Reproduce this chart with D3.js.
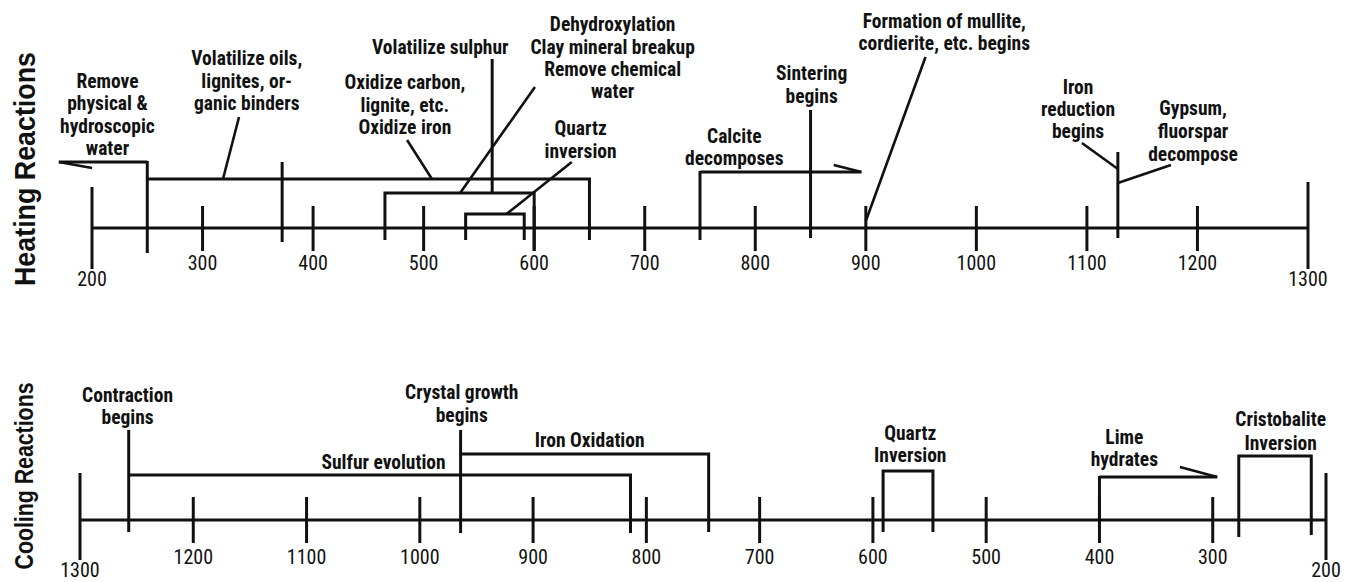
<!DOCTYPE html>
<html>
<head>
<meta charset="utf-8">
<script src="https://cdn.jsdelivr.net/npm/d3@7"></script>
<style>
  html, body { margin: 0; padding: 0; background: #fff; }
  svg { display: block; }
  .note { font-family: "Liberation Sans Narrow", "Roboto Condensed", "DejaVu Sans Condensed", sans-serif; font-stretch: condensed; font-weight: bold; font-size: 19.5px; fill: #111; }
  .tick { font-family: "Liberation Sans Narrow", "Roboto Condensed", "DejaVu Sans Condensed", sans-serif; font-stretch: condensed; font-size: 20px; fill: #111; }
  .title { font-family: "Liberation Sans", "DejaVu Sans", sans-serif; font-weight: bold; fill: #111; }
</style>
</head>
<body>
<script>
// ---------- DATA (temperatures in °C) ----------
const heatingTicks = [200, 300, 400, 500, 600, 700, 800, 900, 1000, 1100, 1200, 1300];
const heatingTickLabels = ["200", "300", "400", "500", "600", "700", "800", "900", "1000", "1100", "1200", "1300"];
const coolingTicks = [1300, 1200, 1100, 1000, 900, 800, 700, 600, 500, 400, 300, 200];
const coolingTickLabels = ["1300", "1200", "1100", "1000", "900", "800", "700", "600", "500", "400", "300", "200"];

// heating reactions: [name, start °C, end °C]
const heatingRanges = [
  ["Remove physical & hydroscopic water", 250, 170],
  ["Volatilize oils, lignites, organic binders", 250, 650],
  ["Oxidize carbon, lignite, iron", 465, 600],
  ["Quartz inversion", 538, 591],
  ["Calcite decomposes", 750, 896]
];
// heating point events: [name, °C]
const heatingPoints = [
  ["Volatilize oils marker", 372],
  ["Volatilize sulphur", 562],
  ["Sintering begins", 850],
  ["Formation of mullite, cordierite, etc. begins", 900],
  ["Iron reduction / Gypsum, fluorspar", 1128]
];
const heatingTexts = [
  ["Remove", "physical &", "hydroscopic", "water"],
  ["Volatilize oils,", "lignites, or-", "ganic binders"],
  ["Volatilize sulphur"],
  ["Oxidize carbon,", "lignite, etc.", "Oxidize iron"],
  ["Dehydroxylation", "Clay mineral breakup", "Remove chemical", "water"],
  ["Quartz", "inversion"],
  ["Calcite", "decomposes"],
  ["Sintering", "begins"],
  ["Formation of mullite,", "cordierite, etc. begins"],
  ["Iron", "reduction", "begins"],
  ["Gypsum,", "fluorspar", "decompose"]
];
const heatingTextAt = [214, 340, 515, 483, 671, 642, 781, 851, 971, 1092, 1196];

// cooling reactions: [name, start °C, end °C]
const coolingRanges = [
  ["Sulfur evolution", 1257, 814],
  ["Iron Oxidation", 964, 745],
  ["Quartz Inversion", 591, 547],
  ["Lime hydrates", 400, 296],
  ["Cristobalite Inversion", 277, 213]
];
const coolingTexts = [
  ["Contraction", "begins"],
  ["Crystal growth", "begins"],
  ["Iron Oxidation"],
  ["Sulfur evolution"],
  ["Quartz", "Inversion"],
  ["Lime", "hydrates"],
  ["Cristobalite", "Inversion"]
];
const coolingTextAt = [1258, 963, 850, 1032, 567, 378, 240];

// ---------- LAYOUT ----------
const W = 1357, H = 582;
const svg = d3.select("body").append("svg").attr("width", W).attr("height", H);

const xh = d3.scaleLinear().domain([200, 1300]).range([92, 1308]);
const xc = d3.scaleLinear().domain([1300, 200]).range([80, 1326]);

const ink = "#111";
const g = svg.append("g").attr("stroke", ink).attr("fill", "none").attr("stroke-linecap", "butt");

function vline(x, y1, y2, w = 3) {
  g.append("line").attr("x1", x).attr("x2", x).attr("y1", y1).attr("y2", y2).attr("stroke-width", w);
}
function hline(x1, x2, y, w = 3) {
  g.append("line").attr("x1", x1).attr("x2", x2).attr("y1", y).attr("y2", y).attr("stroke-width", w);
}
function seg(x1, y1, x2, y2, w = 2.6) {
  g.append("line").attr("x1", x1).attr("x2", x2).attr("y1", y1).attr("y2", y2).attr("stroke-width", w);
}
function bracket(x1, x2, yTop, y1b, y2b) {
  g.append("path").attr("d", `M${x1},${y1b}V${yTop}H${x2}V${y2b}`).attr("stroke-width", 3).attr("stroke-linejoin", "miter");
}
function textBlock(x, yCenters, lines, cls = "note") {
  lines.forEach((t, i) => {
    svg.append("text").attr("class", cls).attr("x", x).attr("y", yCenters[i] + 7)
      .attr("text-anchor", "middle").text(t);
  });
}

// ---------- HEATING AXIS ----------
const hAxisY = 228;
hline(xh(200), xh(1300), hAxisY, 3);
heatingTicks.forEach((t, i) => {
  const end = (i === 0 || i === heatingTicks.length - 1);
  const top = i === 0 ? 187 : (i === heatingTicks.length - 1 ? 182 : 206);
  const bot = end ? 269 : 251;
  vline(xh(t), top, bot, 3);
  svg.append("text").attr("class", "tick").attr("x", xh(t)).attr("y", (end ? 279 : 263) + 7)
    .attr("text-anchor", "middle").text(heatingTickLabels[i]);
});

// heating ranges
const [rRemove, rVol, rOx, rQz, rCal] = heatingRanges;
vline(xh(rRemove[1]), 161, 253, 3);
hline(xh(rRemove[1]), xh(rRemove[2]), 162, 3);
seg(xh(rRemove[2]), 162, xh(200), 168, 2.6);
bracket(xh(rVol[1]), xh(rVol[2]), 179, 179, 240);
bracket(xh(rOx[1]), xh(rOx[2]), 193, 240, 251);
bracket(xh(rQz[1]), xh(rQz[2]), 214, 240, 240);
vline(xh(rCal[1]), 171, 240, 3);
hline(xh(rCal[1]), xh(rCal[2]), 172, 3);
seg(xh(871), 165, xh(rCal[2]), 172, 2.6);

// heating points
const [pMark, pSulph, pSint, pMull, pIron] = heatingPoints;
vline(xh(pMark[1]), 162, 242, 3);
vline(xh(pSulph[1]), 59, 193, 3);
vline(xh(pSint[1]), 110, 238, 3);
seg(xh(954), 57, xh(pMull[1]), 221, 2.6);
vline(xh(pIron[1]), 152, 238, 3);

// leaders
seg(xh(333), 117, xh(318.5), 179);
seg(xh(485), 140, xh(507.5), 179);
seg(xh(600.7), 87, xh(533), 193);
seg(xh(634), 162, xh(575), 214);
seg(xh(1095.5), 143, xh(pIron[1]), 169);
seg(xh(pIron[1]), 183, xh(1176), 165);

// heating text
const hTextY = [
  [81, 103, 126, 148],
  [58, 81, 103],
  [47],
  [82, 105, 127],
  [24, 47, 69, 91],
  [128, 151],
  [136, 158],
  [73, 96],
  [21, 43],
  [87, 109, 131],
  [108, 131, 154]
];
heatingTexts.forEach((lines, i) => textBlock(xh(heatingTextAt[i]), hTextY[i], lines));

// ---------- COOLING AXIS ----------
const cAxisY = 520;
hline(xc(1300), xc(200), cAxisY, 3);
coolingTicks.forEach((t, i) => {
  const end = (i === 0 || i === coolingTicks.length - 1);
  vline(xc(t), end ? 473 : 497, end ? 560 : 543, 3);
  svg.append("text").attr("class", "tick").attr("x", xc(t)).attr("y", end ? 577 : 564)
    .attr("text-anchor", "middle").text(coolingTickLabels[i]);
});

const [cSulf, cIron, cQz, cLime, cCris] = coolingRanges;
vline(xc(cSulf[1]), 430, 532, 3);
bracket(xc(cSulf[1]), xc(cSulf[2]), 475, 475, 533);
vline(xc(cIron[1]), 430, 533, 3);
bracket(xc(cIron[1]), xc(cIron[2]), 454, 454, 532);
bracket(xc(cQz[1]), xc(cQz[2]), 471, 532, 532);
vline(xc(cLime[1]), 476, 520, 3);
hline(xc(cLime[1]), xc(cLime[2]), 477, 3);
seg(xc(329), 467, xc(cLime[2]), 477, 2.6);
bracket(xc(cCris[1]), xc(cCris[2]), 456, 537, 535);

const cTextY = [
  [395, 417],
  [392, 415],
  [440],
  [462],
  [433, 455],
  [437, 459],
  [419, 443]
];
coolingTexts.forEach((lines, i) => textBlock(xc(coolingTextAt[i]), cTextY[i], lines));

// ---------- TITLES ----------
svg.append("text").attr("class", "title")
  .attr("transform", "translate(35,169) rotate(-90)")
  .attr("text-anchor", "middle").attr("font-size", 29)
  .attr("textLength", 234).attr("lengthAdjust", "spacingAndGlyphs")
  .text("Heating Reactions");
svg.append("text").attr("class", "title")
  .attr("transform", "translate(33,476) rotate(-90)")
  .attr("text-anchor", "middle").attr("font-size", 26)
  .attr("textLength", 187).attr("lengthAdjust", "spacingAndGlyphs")
  .text("Cooling Reactions");
</script>
</body>
</html>
